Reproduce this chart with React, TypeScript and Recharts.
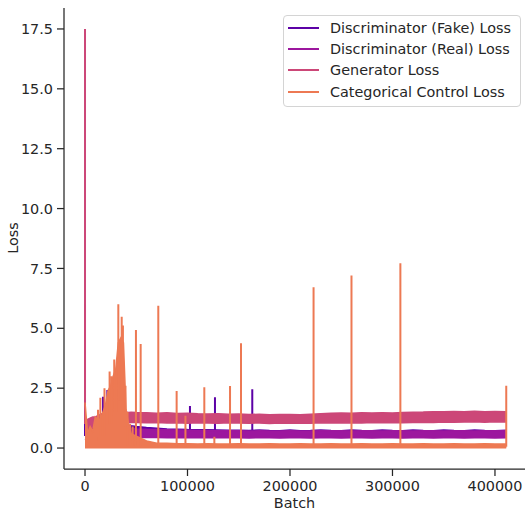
import { Area, ComposedChart, Legend, Line, XAxis, YAxis } from "recharts"

const batches = [
  0, 2500, 5000, 7500, 10000, 12500, 15000, 17500, 20000, 22500, 25000, 27500, 30000, 32500, 35000, 37500, 40000, 42500, 45000,
  50000, 60000, 70000, 80000, 90000, 100000, 110000, 120000, 130000, 140000,
  150000, 160000, 170000, 180000, 190000, 200000, 210000, 220000, 230000, 240000,
  250000, 260000, 270000, 280000, 290000, 300000, 310000, 320000, 330000, 340000,
  350000, 360000, 370000, 380000, 390000, 400000, 411000,
]

// band low / high of each loss
const fakeLow = [
  0.35, 0.38, 0.4, 0.4, 0.42, 0.42, 0.43, 0.43, 0.44, 0.44, 0.45, 0.45, 0.45, 0.46, 0.46, 0.46, 0.47, 0.48, 0.48,
  0.5, 0.5, 0.49, 0.49, 0.48, 0.48, 0.48, 0.47, 0.47, 0.47,
  0.47, 0.47, 0.46, 0.46, 0.46, 0.46, 0.46, 0.46, 0.46, 0.46,
  0.46, 0.46, 0.46, 0.46, 0.46, 0.46, 0.46, 0.46, 0.46, 0.46,
  0.46, 0.46, 0.46, 0.46, 0.46, 0.46, 0.46,
]
const fakeHigh = [
  0.95, 0.95, 1.0, 1.0, 1.0, 1.05, 1.1, 1.15, 1.2, 1.3, 1.4, 1.5, 1.6, 1.5, 1.4, 1.3, 1.0, 0.95, 0.93,
  0.9, 0.86, 0.83, 0.8, 0.79, 0.77, 0.76, 0.76, 0.75, 0.74,
  0.74, 0.73, 0.75, 0.73, 0.72, 0.75, 0.72, 0.73, 0.75, 0.73,
  0.72, 0.75, 0.73, 0.72, 0.75, 0.73, 0.72, 0.75, 0.73, 0.72,
  0.75, 0.73, 0.72, 0.75, 0.73, 0.72, 0.74,
]
const realLow = [
  0.35, 0.38, 0.4, 0.4, 0.4, 0.41, 0.41, 0.42, 0.42, 0.42, 0.43, 0.43, 0.43, 0.44, 0.44, 0.44, 0.44, 0.44, 0.44,
  0.44, 0.44, 0.44, 0.43, 0.44, 0.43, 0.43, 0.44, 0.43, 0.43,
  0.43, 0.42, 0.43, 0.43, 0.42, 0.43, 0.43, 0.42, 0.43, 0.43,
  0.42, 0.43, 0.43, 0.42, 0.43, 0.43, 0.42, 0.43, 0.43, 0.42,
  0.43, 0.43, 0.42, 0.43, 0.43, 0.42, 0.43,
]
const realHigh = [
  0.85, 0.85, 0.9, 0.9, 0.9, 0.95, 1.0, 1.0, 1.05, 1.1, 1.2, 1.3, 1.3, 1.2, 1.1, 1.0, 0.9, 0.85, 0.82,
  0.8, 0.78, 0.77, 0.76, 0.75, 0.74, 0.73, 0.73, 0.72, 0.72,
  0.72, 0.71, 0.72, 0.71, 0.71, 0.72, 0.71, 0.71, 0.72, 0.72,
  0.72, 0.71, 0.72, 0.72, 0.71, 0.72, 0.72, 0.71, 0.72, 0.72,
  0.71, 0.72, 0.72, 0.71, 0.72, 0.72, 0.72,
]
const genLow = [
  0.7, 0.72, 0.8, 0.85, 0.9, 0.92, 0.95, 0.95, 1.0, 1.0, 1.0, 1.02, 1.02, 1.05, 1.05, 1.05, 1.06, 1.06, 1.07,
  1.07, 1.06, 1.07, 1.05, 1.06, 1.04, 1.06, 1.05, 1.04, 1.06,
  1.05, 1.04, 1.05, 1.03, 1.05, 1.04, 1.05, 1.04, 1.06, 1.05,
  1.05, 1.06, 1.05, 1.07, 1.06, 1.07, 1.06, 1.07, 1.08, 1.07,
  1.09, 1.08, 1.09, 1.1, 1.08, 1.1, 1.09,
]
const genHigh = [
  1.15, 1.2, 1.25, 1.3, 1.3, 1.35, 1.4, 1.45, 1.5, 1.55, 1.6, 1.6, 1.6, 1.55, 1.55, 1.5, 1.5, 1.48, 1.49,
  1.48, 1.47, 1.45, 1.47, 1.44, 1.45, 1.43, 1.42, 1.43, 1.41,
  1.42, 1.4, 1.41, 1.39, 1.4, 1.4, 1.39, 1.41, 1.43, 1.45,
  1.46, 1.45, 1.47, 1.46, 1.47, 1.46, 1.48, 1.49, 1.5, 1.52,
  1.52, 1.53, 1.52, 1.54, 1.52, 1.53, 1.52,
]
const catLow = [
  0.01, 0.01, 0.01, 0.01, 0.01, 0.01, 0.01, 0.01, 0.01, 0.01, 0.01, 0.01, 0.01, 0.01, 0.01, 0.01, 0.01, 0.01, 0.01,
  0.01, 0.01, 0.01, 0.01, 0.01, 0.01, 0.01, 0.01, 0.01, 0.01,
  0.01, 0.01, 0.01, 0.01, 0.01, 0.01, 0.01, 0.01, 0.01, 0.01,
  0.01, 0.01, 0.01, 0.01, 0.01, 0.01, 0.01, 0.01, 0.01, 0.01,
  0.01, 0.01, 0.01, 0.01, 0.01, 0.01, 0.01,
]
const catHigh = [
  1.9, 0.6, 0.9, 0.7, 1.3, 1.2, 1.2, 1.5, 1.8, 2.4, 2.6, 3.0, 3.3, 4.4, 4.6, 4.4, 1.6, 1.0, 0.6,
  0.5, 0.3, 0.2, 0.2, 0.18, 0.18, 0.17, 0.18, 0.17, 0.17,
  0.18, 0.17, 0.17, 0.18, 0.17, 0.17, 0.18, 0.17, 0.17, 0.18,
  0.17, 0.17, 0.18, 0.17, 0.17, 0.18, 0.17, 0.17, 0.18, 0.17,
  0.17, 0.18, 0.17, 0.17, 0.18, 0.17, 0.17,
]

// single-batch spikes: [batch, from, peak]
const fakeSpikes = [
  [0, 0.5, 6.0],
  [17600, 0.8, 2.14],
  [21800, 0.8, 2.42],
  [38700, 0.8, 1.87],
  [102400, 0.6, 1.76],
  [126800, 0.6, 2.12],
  [163200, 0.6, 2.45],
]
const realSpikes: number[][] = []
const genSpikes = [[0, 1.0, 17.5]]
const catSpikes = [
  [12700, 0.3, 1.6],
  [15000, 0.5, 2.1],
  [19000, 0.5, 2.5],
  [24000, 1.0, 3.2],
  [26000, 1.0, 3.0],
  [28500, 1.5, 3.7],
  [30500, 1.5, 3.3],
  [32500, 2.0, 6.0],
  [35800, 2.0, 5.48],
  [37000, 2.0, 5.12],
  [39500, 0.5, 2.6],
  [41500, 0.1, 1.5],
  [44000, 0.1, 1.0],
  [46500, 0.1, 0.9],
  [49700, 0.05, 4.93],
  [54300, 0.05, 4.34],
  [71500, 0.05, 5.94],
  [89400, 0.05, 2.38],
  [98000, 0.05, 1.35],
  [116400, 0.05, 2.54],
  [126200, 0.05, 0.47],
  [141500, 0.05, 2.59],
  [152200, 0.05, 4.38],
  [223000, 0.05, 6.71],
  [260000, 0.05, 7.21],
  [307700, 0.05, 7.72],
  [411000, 0.05, 2.6],
]

const seriesNames = ["Discriminator (Fake) Loss", "Discriminator (Real) Loss", "Generator Loss", "Categorical Control Loss"]
const seriesKeys = ["fake", "real", "gen", "cat"]
const colors = ["#5c01a6", "#9c179e", "#cc4778", "#ed7953"]
const xTicks = [0, 100000, 200000, 300000, 400000]
const yTicks = [0, 2.5, 5, 7.5, 10, 12.5, 15, 17.5]

const lows = [fakeLow, realLow, genLow, catLow]
const highs = [fakeHigh, realHigh, genHigh, catHigh]
const spikes = [fakeSpikes, realSpikes, genSpikes, catSpikes]

const bandRows = batches.map((b, i) => {
  const row: Record<string, any> = { batch: b }
  seriesKeys.forEach((k, s) => {
    row[k] = [lows[s][i], highs[s][i]]
  })
  return row
})
const spikeRows = seriesKeys.flatMap((k, s) =>
  spikes[s].flatMap(([b, lo, hi]) => [
    { batch: b, [k + "Spike"]: lo },
    { batch: b, [k + "Spike"]: hi },
    { batch: b, [k + "Spike"]: null },
  ])
)
const data = [...bandRows, ...spikeRows].sort((a, b) => a.batch - b.batch)

const font = "'DejaVu Sans', sans-serif"
const ink = "#262626"

function LossLegend() {
  return (
    <div
      style={{
        boxSizing: "border-box",
        width: 238,
        border: "1px solid #d4d4d4",
        borderRadius: 4,
        background: "rgba(255,255,255,0.8)",
        padding: "1px 4px 3px 4px",
        fontFamily: font,
        fontSize: 14.4,
        color: ink,
      }}
    >
      {seriesNames.map((name, i) => (
        <div key={name} style={{ display: "flex", alignItems: "center", height: 21.4, whiteSpace: "nowrap" }}>
          <span style={{ display: "inline-block", width: 31, height: 2, background: colors[i], marginRight: 11 }} />
          {name}
        </div>
      ))}
    </div>
  )
}

export default function App() {
  return (
    <div style={{ position: "absolute", left: 0, top: 0, width: 525, height: 510, background: "#fff", fontFamily: font }}>
      <ComposedChart width={525} height={510} data={data} margin={{ top: 8, right: 0, bottom: 0, left: 8 }}>
        <XAxis
          dataKey="batch"
          type="number"
          domain={[-20500, 429300]}
          allowDataOverflow
          ticks={xTicks}
          height={41}
          tickSize={7}
          tickMargin={5}
          stroke={ink}
          strokeWidth={1.25}
          tick={{ fill: ink, fontSize: 14.4, fontFamily: font }}
          label={{ value: "Batch", position: "insideBottom", offset: 2, fill: ink, fontSize: 14.4, fontFamily: font }}
        />
        <YAxis
          type="number"
          domain={[-0.875, 18.375]}
          allowDataOverflow
          ticks={yTicks}
          width={56}
          tickSize={7}
          tickMargin={4}
          stroke={ink}
          strokeWidth={1.25}
          tickFormatter={(v) => v.toFixed(1)}
          tick={{ fill: ink, fontSize: 14.4, fontFamily: font }}
          label={{
            content: () => (
              <text x={18} y={238} transform="rotate(-90 18 238)" textAnchor="middle" fill={ink} fontSize={14.4} fontFamily={font}>
                Loss
              </text>
            ),
          }}
        />
        {seriesKeys.flatMap((k, s) => [
          <Area
            key={k}
            dataKey={k}
            type="linear"
            stroke={colors[s]}
            strokeWidth={1.5}
            fill={colors[s]}
            fillOpacity={1}
            connectNulls
            isAnimationActive={false}
            legendType="none"
            zIndex={100 + s * 2}
          />,
          <Line
            key={k + "Spike"}
            dataKey={k + "Spike"}
            type="linear"
            stroke={colors[s]}
            strokeWidth={2}
            dot={false}
            activeDot={false}
            connectNulls={false}
            isAnimationActive={false}
            legendType="none"
            zIndex={101 + s * 2}
          />,
        ])}
        <Legend
          layout="vertical"
          align="center"
          verticalAlign="middle"
          content={() => <LossLegend />}
          wrapperStyle={{ top: 15, left: 283, width: 238, height: 91 }}
        />
      </ComposedChart>
    </div>
  )
}
